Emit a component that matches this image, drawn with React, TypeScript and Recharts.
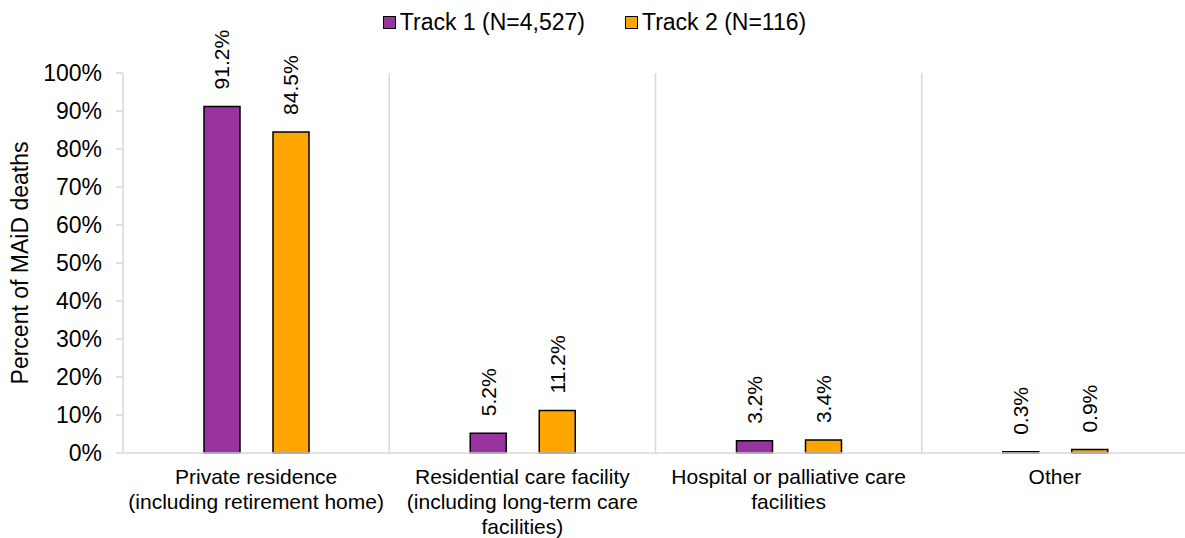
import { BarChart, Bar, XAxis, YAxis, CartesianGrid, LabelList } from 'recharts';

const categories = [
  'Private residence\n(including retirement home)',
  'Residential care facility\n(including long-term care\nfacilities)',
  'Hospital or palliative care\nfacilities',
  'Other',
];
const track1 = [91.2, 5.2, 3.2, 0.3];
const track2 = [84.5, 11.2, 3.4, 0.9];
const yTicks = [0, 10, 20, 30, 40, 50, 60, 70, 80, 90, 100];

const seriesNames = ['Track 1 (N=4,527)', 'Track 2 (N=116)'];
const seriesColors = ['#9933A0', '#FFA500'];

const data = categories.map((c, i) => ({ name: c, t1: track1[i], t2: track2[i] }));

const FONT = 'Liberation Sans, Arial, sans-serif';

// étiquettes multi-lignes sous l'axe
const CategoryTick = (props: any) => {
  const { x, y, payload } = props;
  const lines = String(payload.value).split('\n');
  return (
    <text x={x} y={y + 23} textAnchor="middle" fontSize={21} fill="#000" fontFamily={FONT}>
      {lines.map((l, i) => (
        <tspan key={i} x={x} dy={i === 0 ? 0 : 25}>{l}</tspan>
      ))}
    </text>
  );
};

// valeurs verticales au-dessus des barres
const RotatedLabel = (props: any) => {
  const { x, y, width, value } = props;
  const cx = x + width / 2;
  const cy = y - 17;
  return (
    <text
      x={cx}
      y={cy}
      transform={`rotate(-90, ${cx}, ${cy})`}
      textAnchor="start"
      dominantBaseline="central"
      fontSize={21}
      fill="#000"
      fontFamily={FONT}
    >
      {value.toFixed(1)}%
    </text>
  );
};

const YLabel = (props: any) => {
  const { viewBox } = props;
  const cx = 20;
  const cy = viewBox.y + viewBox.height / 2;
  return (
    <text
      x={cx}
      y={cy}
      transform={`rotate(-90, ${cx}, ${cy})`}
      textAnchor="middle"
      dominantBaseline="central"
      fontSize={23}
      fill="#000"
      fontFamily={FONT}
    >
      Percent of MAiD deaths
    </text>
  );
};

const LegendBox = () => (
  <div
    style={{
      position: 'absolute',
      top: 9,
      left: 0,
      width: 1185,
      display: 'flex',
      justifyContent: 'center',
      gap: 40,
      fontFamily: FONT,
      fontSize: 23,
      color: '#000',
      paddingLeft: 4,
      boxSizing: 'border-box',
    }}
  >
    {seriesNames.map((n, i) => (
      <div key={n} style={{ display: 'flex', alignItems: 'center' }}>
        <span
          style={{
            display: 'inline-block',
            width: 11,
            height: 11,
            background: seriesColors[i],
            border: '1.5px solid #000',
            marginRight: 4,
          }}
        />
        {n}
      </div>
    ))}
  </div>
);

export default function App() {
  return (
    <div style={{ position: 'absolute', left: 0, top: 0, width: 1185, height: 538, overflow: 'hidden', background: '#fff' }}>
      <BarChart
        width={1188}
        height={538}
        data={data}
        margin={{ top: 73, right: 0, bottom: 0, left: 0 }}
        barGap={33}
        barSize={36}
      >
        <CartesianGrid
          horizontal={false}
          stroke="#d9d9d9"
          strokeWidth={1.5}
          verticalCoordinatesGenerator={({ offset }: any) =>
            [1, 2, 3, 4].map((i) => offset.left + (i * offset.width) / categories.length)
          }
        />
        <XAxis
          dataKey="name"
          interval={0}
          tick={<CategoryTick />}
          tickLine={false}
          axisLine={{ stroke: '#d9d9d9', strokeWidth: 1.5 }}
          height={85}
        />
        <YAxis
          width={123}
          domain={[0, 100]}
          ticks={yTicks}
          interval={0}
          tickFormatter={(v) => `${v}%`}
          tick={{ fontSize: 23, fill: '#000', fontFamily: FONT }}
          tickSize={7}
          tickMargin={14}
          tickLine={{ stroke: '#d9d9d9', strokeWidth: 1.5 }}
          axisLine={{ stroke: '#d9d9d9', strokeWidth: 1.5 }}
          label={<YLabel />}
        />
        <Bar dataKey="t1" name={seriesNames[0]} fill={seriesColors[0]} stroke="#000" strokeWidth={1.5} isAnimationActive={false}>
          <LabelList dataKey="t1" content={<RotatedLabel />} />
        </Bar>
        <Bar dataKey="t2" name={seriesNames[1]} fill={seriesColors[1]} stroke="#000" strokeWidth={1.5} isAnimationActive={false}>
          <LabelList dataKey="t2" content={<RotatedLabel />} />
        </Bar>
      </BarChart>
      <LegendBox />
    </div>
  );
}
